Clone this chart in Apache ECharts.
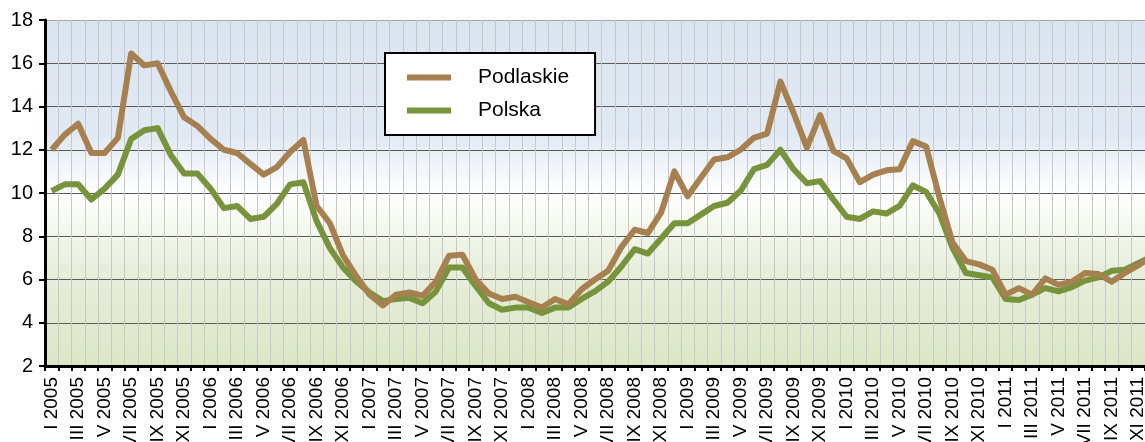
<!DOCTYPE html>
<html>
<head>
<meta charset="utf-8">
<script src="https://cdn.jsdelivr.net/npm/echarts@6/dist/echarts.min.js"></script>
<style>
html,body{margin:0;padding:0;background:#fff;}
#chart{width:1145px;height:442px;}
</style>
</head>
<body>
<div id="chart"></div>
<script>
var months = ['I','II','III','IV','V','VI','VII','VIII','IX','X','XI','XII'];
var years = [2005, 2006, 2007, 2008, 2009, 2010, 2011];
var categories = [];
years.forEach(function (y) { months.forEach(function (m) { categories.push(m + ' ' + y); }); });

var podlaskie = [
  12.0, 12.7, 13.2, 11.85, 11.85, 12.55, 16.45, 15.9, 16.0, 14.7, 13.5, 13.1,
  12.5, 12.0, 11.85, 11.35, 10.85, 11.2, 11.9, 12.45, 9.4, 8.6, 7.1, 6.15,
  5.3, 4.8, 5.3, 5.4, 5.25, 5.9, 7.1, 7.15, 6.0, 5.35, 5.1, 5.2,
  4.95, 4.7, 5.1, 4.85, 5.55, 6.0, 6.4, 7.5, 8.3, 8.15, 9.1, 11.0,
  9.85, 10.7, 11.55, 11.65, 12.0, 12.55, 12.75, 15.15, 13.7, 12.1, 13.6, 11.95,
  11.6, 10.5, 10.85, 11.05, 11.1, 12.4, 12.15, 9.8, 7.7, 6.85, 6.7, 6.45,
  5.3, 5.6, 5.3, 6.05, 5.75, 5.9, 6.3, 6.25, 5.9, 6.3, 6.65, 7.05
];
var polska = [
  10.1, 10.4, 10.4, 9.7, 10.2, 10.85, 12.5, 12.9, 13.0, 11.75, 10.9, 10.9,
  10.2, 9.3, 9.4, 8.8, 8.9, 9.5, 10.4, 10.5, 8.7, 7.45, 6.55, 5.9,
  5.4, 5.0, 5.1, 5.15, 4.9, 5.45, 6.55, 6.55, 5.7, 4.9, 4.6, 4.7,
  4.7, 4.45, 4.7, 4.7, 5.1, 5.45, 5.9, 6.6, 7.4, 7.2, 7.9, 8.6,
  8.6, 9.0, 9.4, 9.55, 10.1, 11.1, 11.3, 12.0, 11.1, 10.45, 10.55, 9.7,
  8.9, 8.8, 9.15, 9.05, 9.4, 10.35, 10.05, 9.05, 7.45, 6.3, 6.2, 6.1,
  5.1, 5.05, 5.3, 5.6, 5.45, 5.65, 5.95, 6.1, 6.4, 6.45, 6.75, 7.05
];
var seriesNames = ['Podlaskie', 'Polska'];
var yTicks = [2, 4, 6, 8, 10, 12, 14, 16, 18];

var FONT = "'Liberation Sans', Arial, sans-serif";
var chart = echarts.init(document.getElementById('chart'), null, {renderer: 'canvas'});
chart.setOption({
  animation: false,
  backgroundColor: '#ffffff',
  textStyle: {fontFamily: FONT},
  grid: {
    left: 45, top: 20, width: 1113, height: 346,
    outerBoundsMode: 'none',
    show: true,
    borderWidth: 0,
    backgroundColor: new echarts.graphic.LinearGradient(0, 0, 0, 1, [
      {offset: 0, color: '#dbe5f1'},
      {offset: 0.33, color: '#e0e9f4'},
      {offset: 0.5, color: '#ffffff'},
      {offset: 0.72, color: '#e8eedb'},
      {offset: 1, color: '#dbe6c6'}
    ])
  },
  legend: {
    data: seriesNames,
    orient: 'vertical',
    left: 385, top: 53,
    backgroundColor: '#ffffff',
    borderColor: '#000000',
    borderWidth: 2,
    borderRadius: 0,
    padding: [14, 26, 14, 22],
    itemGap: 12,
    itemWidth: 44,
    itemHeight: 6,
    icon: 'rect',
    textStyle: {fontSize: 21, color: '#000', fontFamily: FONT, padding: [0, 0, 0, 22]}
  },
  xAxis: {
    type: 'category',
    data: categories,
    boundaryGap: true,
    axisLine: {show: true, lineStyle: {color: '#000', width: 3}},
    axisTick: {show: true, interval: 0, length: 5, lineStyle: {color: '#000', width: 2}},
    splitLine: {show: true, interval: 0, lineStyle: {color: '#c8c8c8', width: 1}},
    axisLabel: {
      interval: 1, rotate: 90, margin: 11,
      fontSize: 19, color: '#000', fontFamily: FONT
    }
  },
  yAxis: {
    type: 'value',
    min: 2, max: 18, interval: 2,
    axisLine: {show: true, lineStyle: {color: '#000', width: 3}},
    axisTick: {show: true, length: 6, lineStyle: {color: '#000', width: 2}},
    splitLine: {show: true, lineStyle: {color: ['#595959','#595959','#595959','#595959','#595959','#595959','#595959','#595959','#a6a6a6'], width: 1}},
    axisLabel: {
      margin: 12, fontSize: 20, color: '#000', fontFamily: FONT,
      formatter: function (v) { return yTicks.indexOf(v) >= 0 ? String(v) : ''; }
    }
  },
  series: [
    {
      name: 'Polska', type: 'line', data: polska,
      showSymbol: false, symbol: 'none',
      lineStyle: {color: '#77933c', width: 6, join: 'round'},
      itemStyle: {color: '#77933c'}
    },
    {
      name: 'Podlaskie', type: 'line', data: podlaskie,
      showSymbol: false, symbol: 'none',
      lineStyle: {color: '#a6804e', width: 6, join: 'round'},
      itemStyle: {color: '#a6804e'}
    }
  ]
});
</script>
</body>
</html>
